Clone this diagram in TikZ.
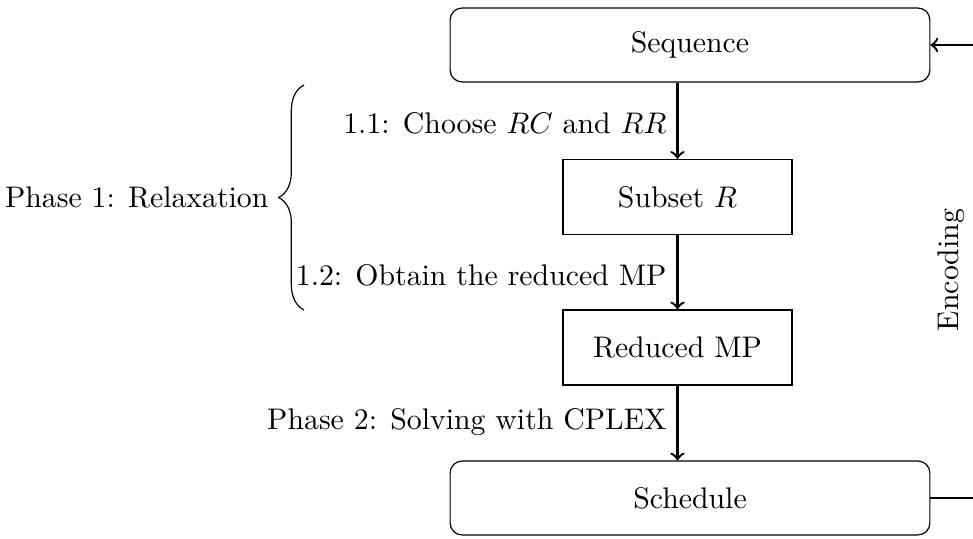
\documentclass[tikz,border=0pt]{standalone}
\usetikzlibrary{decorations.pathreplacing}
\begin{document}
\begin{tikzpicture}[x=0.3356pt,y=-0.3356pt,
  roundbox/.style={draw,rounded corners=4pt,minimum width=161pt,minimum height=24.8pt,inner sep=0pt},
  plainbox/.style={draw,minimum width=76.8pt,minimum height=25.2pt,inner sep=0pt},
  flow/.style={->,thick},
  steplabel/.style={anchor=east,inner sep=0pt}]
\useasboundingbox (0,0) rectangle (973,539);
\clip (0,0) rectangle (973,539);
\node[roundbox] (seq) at (690,45) {Sequence};
\node[plainbox] (sub) at (677.5,197) {Subset $R$};
\node[plainbox] (red) at (677.5,347.5) {Reduced MP};
\node[roundbox] (sch) at (690,498) {Schedule};
\draw[flow] (seq.south -| sub.north) -- (sub.north);
\draw[flow] (sub.south) -- (red.north);
\draw[flow] (red.south) -- (sch.north -| red.south);
\node[steplabel] (l11) at (667,123) {1.1: Choose $RC$ and $RR$};
\node[steplabel] (l12) at (667,275) {1.2: Obtain the reduced MP};
\node[steplabel] (l2) at (667,422) {Phase 2: Solving with CPLEX};
\coordinate (bt) at (304,310);
\coordinate (bb) at (304,85);
\draw[decorate,decoration={brace,amplitude=8.5pt}] (bt) -- (bb);
\node[steplabel] (ph1) at (269,197) {Phase 1: Relaxation};
\node[rotate=90,inner sep=0pt] (enc) at (951,270) {Encoding};
\coordinate (r1) at (1000,498);
\coordinate (r2) at (1000,45);
\draw[thick] (sch.east) -- (r1) -- (r2);
\draw[flow] (r2) -- (seq.east);
\end{tikzpicture}
\end{document}
